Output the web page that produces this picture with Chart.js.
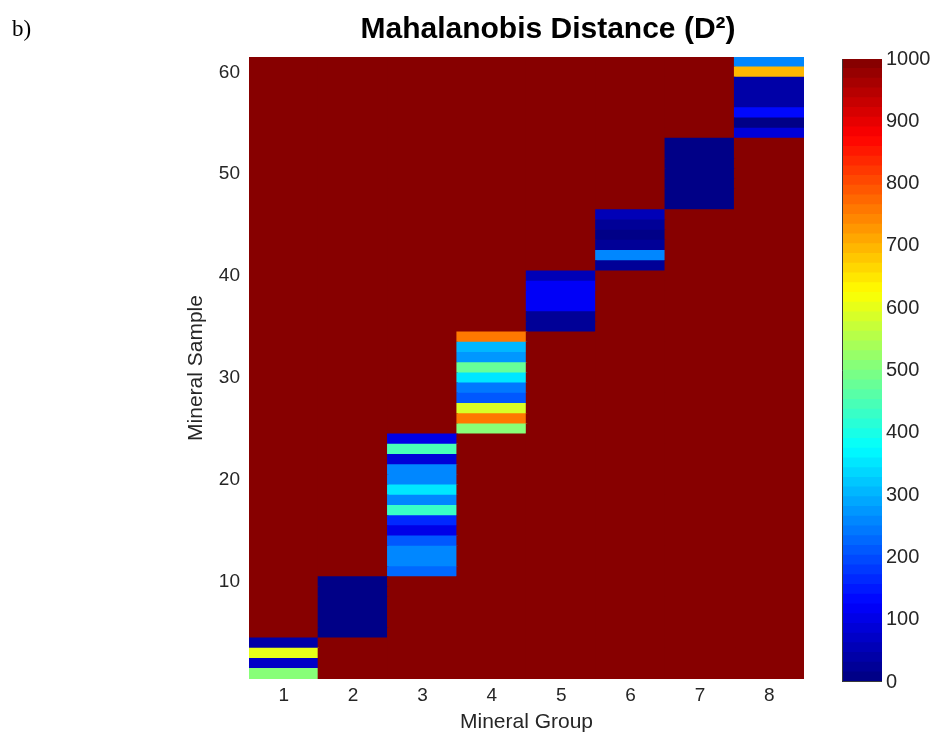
<!DOCTYPE html>
<html>
<head>
<meta charset="utf-8">
<title>Mahalanobis Distance</title>
<script src="https://cdn.jsdelivr.net/npm/chart.js@4/dist/chart.umd.min.js"></script>
<style>
    body { margin: 0; background: #fff; }
    #wrap { position: relative; width: 937px; height: 738px; }
    #mainChart { position: absolute; left: 0; top: 0; }
    #barChart { position: absolute; left: 800px; top: 0; }
    #panel { position: absolute; left: 12px; top: 16px; font: 23px "Liberation Serif", "Times New Roman", serif; color: #000; }
    #title {
        position: absolute; left: 298px; top: 11px; width: 500px; text-align: center;
        font: bold 30px/34px "Liberation Sans", Arial, Helvetica, sans-serif; color: #000;
    }
</style>
</head>
<body>
<div id="wrap">
    <canvas id="mainChart" width="937" height="738"></canvas>
    <canvas id="barChart" width="137" height="738"></canvas>
    <div id="panel">b)</div>
    <div id="title">Mahalanobis Distance (D²)</div>
</div>
<script>
// Mineral groups along x, samples along y (sample 1 at the bottom)
const groupLabels = ['1', '2', '3', '4', '5', '6', '7', '8'];
const groupSizes = [4, 6, 14, 10, 6, 6, 7, 8];

// D² of each sample to its own group, bottom sample first
const group1D2 = [500, 75, 594, 42];
const group2D2 = [6, 9, 7, 10, 8, 6];
const group3D2 = [220, 260, 265, 210, 100, 165, 425, 265, 350, 265, 258, 90, 450, 100];
const group4D2 = [515, 750, 590, 205, 245, 355, 470, 275, 305, 765];
const group5D2 = [20, 20, 110, 115, 115, 50];
const group6D2 = [30, 265, 30, 15, 30, 60];
const group7D2 = [8, 6, 9, 7, 10, 8, 6];
const group8D2 = [85, 5, 125, 40, 40, 40, 690, 250];
const ownGroupD2 = [group1D2, group2D2, group3D2, group4D2, group5D2, group6D2, group7D2, group8D2];

// distance to any other group is off the scale
const otherGroupD2 = 1000;

const sampleTicks = [10, 20, 30, 40, 50, 60];
const colorbarTicks = [0, 100, 200, 300, 400, 500, 600, 700, 800, 900, 1000];
const colorLevels = 64;
const maxD2 = 1000;

const FONT = '"Liberation Sans", Arial, Helvetica, sans-serif';
const TEXT = '#262626';

function jetColor(v) {
    const idx = Math.max(0, Math.min(colorLevels - 1, Math.floor(v / maxD2 * colorLevels)));
    const t = (idx + 0.5) / colorLevels;
    const c = x => Math.round(255 * Math.max(0, Math.min(1, x)));
    const r = c(1.5 - Math.abs(4 * t - 3));
    const g = c(1.5 - Math.abs(4 * t - 2));
    const b = c(1.5 - Math.abs(4 * t - 1));
    return `rgb(${r},${g},${b})`;
}

// one dataset per sample: a floating bar [s-0.5, s+0.5] in every group
const sampleGroup = [];
const sampleOffset = [];
groupSizes.forEach(function(n, g) {
    for (let k = 0; k < n; k++) {
        sampleGroup.push(g);
        sampleOffset.push(k);
    }
});
const sampleCount = sampleGroup.length;

const sampleDatasets = [];
for (let s = 0; s < sampleCount; s++) {
    const sample = s + 1;
    const values = groupLabels.map(function(_, j) {
        return j === sampleGroup[s] ? ownGroupD2[j][sampleOffset[s]] : otherGroupD2;
    });
    sampleDatasets.push({
        label: 'Sample ' + sample,
        data: groupLabels.map(() => [sample - 0.5, sample + 0.5]),
        backgroundColor: values.map(jetColor),
        borderWidth: 0,
        inflateAmount: 0.7,
        barPercentage: 1,
        categoryPercentage: 1,
        grouped: false
    });
}

new Chart(document.getElementById('mainChart').getContext('2d'), {
    type: 'bar',
    data: { labels: groupLabels, datasets: sampleDatasets },
    options: {
        responsive: false,
        animation: false,
        events: [],
        layout: { padding: { left: 179, right: 133, top: 57, bottom: 0 } },
        plugins: {
            legend: { display: false },
            tooltip: { enabled: false },
            title: { display: false }
        },
        scales: {
            x: {
                grid: { display: false, drawTicks: false },
                border: { display: false },
                ticks: { color: TEXT, font: { family: FONT, size: 19 }, padding: 5 },
                title: {
                    display: true,
                    text: 'Mineral Group',
                    color: TEXT,
                    font: { family: FONT, size: 21 },
                    padding: { top: 0, bottom: 3 }
                },
                afterFit: function(scale) { scale.height = 59; }
            },
            y: {
                min: 0.5,
                max: sampleCount + 0.5,
                grid: { display: false, drawTicks: false },
                border: { display: false },
                ticks: { color: TEXT, font: { family: FONT, size: 19 }, padding: 9 },
                afterBuildTicks: function(scale) {
                    scale.ticks = sampleTicks.map(v => ({ value: v }));
                },
                title: {
                    display: true,
                    text: 'Mineral Sample',
                    color: TEXT,
                    font: { family: FONT, size: 21 },
                    padding: { top: 5, bottom: 0 }
                },
                afterFit: function(scale) { scale.width = 70; }
            }
        }
    }
});

// Colorbar
const levelDatasets = [];
for (let k = 0; k < colorLevels; k++) {
    const lo = k * maxD2 / colorLevels;
    const hi = (k + 1) * maxD2 / colorLevels;
    levelDatasets.push({
        data: [[lo, hi]],
        backgroundColor: jetColor((lo + hi) / 2),
        borderWidth: 0,
        inflateAmount: 0.7,
        barPercentage: 1,
        categoryPercentage: 1,
        grouped: false
    });
}

const colorbarOutline = {
    id: 'colorbarOutline',
    afterDraw: function(chart) {
        const a = chart.chartArea;
        const ctx = chart.ctx;
        ctx.save();
        ctx.strokeStyle = '#3a3a3a';
        ctx.lineWidth = 1;
        ctx.beginPath();
        ctx.moveTo(a.left + 0.5, a.top);
        ctx.lineTo(a.left + 0.5, a.bottom - 0.5);
        ctx.lineTo(a.right, a.bottom - 0.5);
        ctx.stroke();
        ctx.restore();
    }
};

new Chart(document.getElementById('barChart').getContext('2d'), {
    type: 'bar',
    data: { labels: [''], datasets: levelDatasets },
    plugins: [colorbarOutline],
    options: {
        responsive: false,
        animation: false,
        events: [],
        layout: { padding: { left: 42, right: 0, top: 59, bottom: 56 } },
        plugins: { legend: { display: false }, tooltip: { enabled: false } },
        scales: {
            x: { display: false },
            y: {
                position: 'right',
                min: 0,
                max: maxD2,
                grid: { display: false, drawTicks: false },
                border: { display: false },
                afterBuildTicks: function(scale) {
                    scale.ticks = colorbarTicks.map(v => ({ value: v }));
                },
                ticks: {
                    color: TEXT,
                    font: { family: FONT, size: 20 },
                    padding: 4,
                    callback: value => String(value)
                },
                afterFit: function(scale) { scale.width = 55; }
            }
        }
    }
});
</script>
</body>
</html>
